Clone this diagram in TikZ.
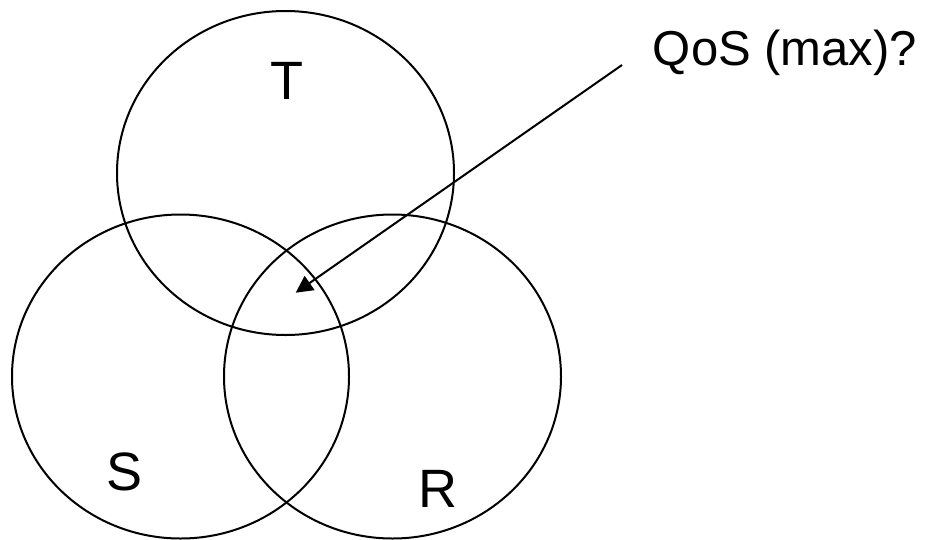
\documentclass[tikz,border=0pt]{standalone}
\usepackage{fontspec}
\setmainfont{Liberation Sans}
\usetikzlibrary{shapes.geometric,arrows.meta}
\tikzset{
  venn/.style={draw=black, line width=2pt, ellipse, inner sep=0pt,
    minimum width=337pt, minimum height=324pt},
  biglabel/.style={inner sep=0pt, anchor=base, font=\fontsize{54}{60}\selectfont},
  qlabel/.style={inner sep=0pt, anchor=base, font=\fontsize{49}{56}\selectfont},
  pointer/.style={line width=2pt, -{Triangle[length=17pt,width=17pt]}}
}
\begin{document}
\begin{tikzpicture}[x=1pt,y=-1pt]
\useasboundingbox (0,0) rectangle (931,539);
\node[venn] (T) at (285.5,173) {};
\node[venn] (S) at (180.5,376.5) {};
\node[venn] (R) at (392.5,376.5) {};
\node[biglabel] (tl) at (287,99) {T};
\node[biglabel] (sl) at (125,490) {S};
\node[biglabel] (rl) at (438,507) {R};
\node[qlabel] (q) at (785,65) {QoS (max)?};
\coordinate (qstart) at (622,65);
\coordinate (tip) at (295.7,292.7);
\draw[pointer] (qstart) -- (tip);
\end{tikzpicture}
\end{document}
